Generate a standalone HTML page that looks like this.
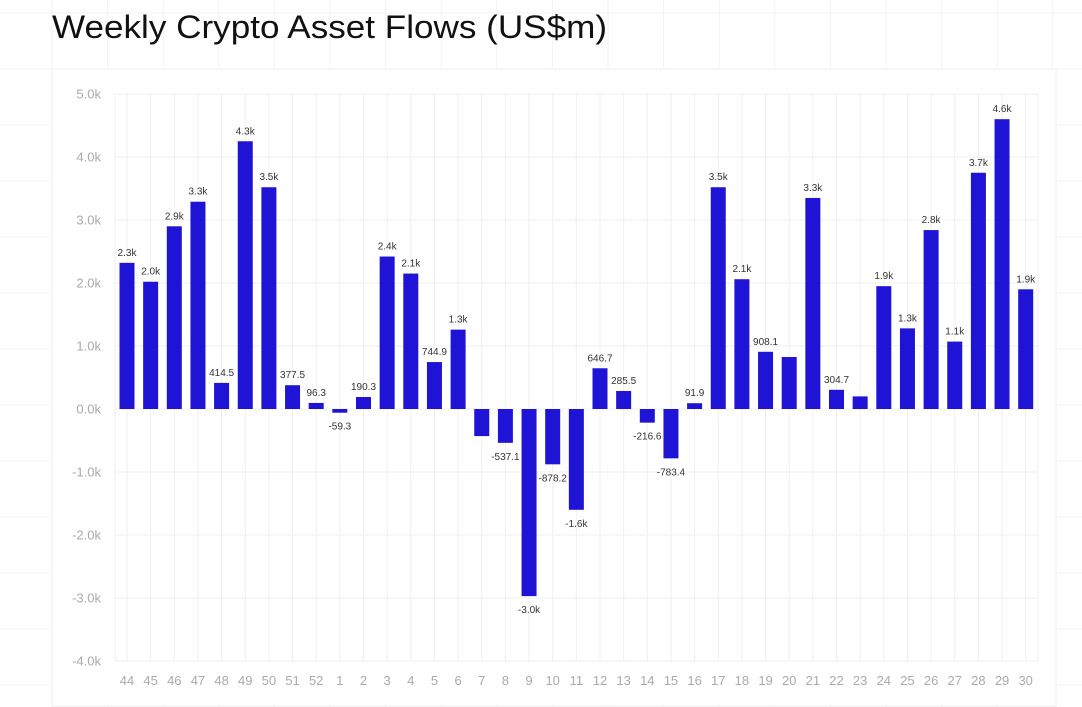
<!DOCTYPE html>
<html><head><meta charset="utf-8"><style>
html,body{margin:0;padding:0;background:#fff;}
svg{display:block;font-family:"Liberation Sans",sans-serif;}
</style></head><body>
<svg width="1082" height="707" viewBox="0 0 1082 707" xmlns="http://www.w3.org/2000/svg">
<g stroke="#f3f3f3" stroke-width="1" id="bg"></g>
<rect x="52" y="69" width="1004" height="637" fill="#fff" stroke="#efefef"/>
<text x="52" y="38" font-size="32" fill="#111" textLength="555" lengthAdjust="spacingAndGlyphs">Weekly Crypto Asset Flows (US$m)</text>
<g id="grid" stroke="#efefef" stroke-width="1"></g>
<g id="bars"></g>
<g id="labels" font-size="10" fill="#333" text-anchor="middle"></g>
<g id="ylab" font-size="13" fill="#aaa" text-anchor="end"></g>
<g id="xlab" font-size="13" fill="#aaa" text-anchor="middle"></g>
</svg>
<script>
const ns="http://www.w3.org/2000/svg";
function el(p,t,a,txt){const e=document.createElementNS(ns,t);for(const k in a)e.setAttribute(k,a[k]);if(txt!==undefined)e.textContent=txt;document.getElementById(p).appendChild(e);return e;}
for(let x=52-55.6*1;x<1082;x+=55.6)el("bg","line",{x1:x,y1:0,x2:x,y2:707});
for(let y=13;y<707;y+=56)el("bg","line",{x1:0,y1:y,x2:1082,y2:y});
const cats=[44,45,46,47,48,49,50,51,52,1,2,3,4,5,6,7,8,9,10,11,12,13,14,15,16,17,18,19,20,21,22,23,24,25,26,27,28,29,30];
const vals=[2.32,2.02,2.9,3.29,0.4145,4.25,3.52,0.3775,0.0963,-0.0593,0.1903,2.42,2.15,0.7449,1.26,-0.43,-0.5371,-2.97,-0.8782,-1.6,0.6467,0.2855,-0.2166,-0.7834,0.0919,3.52,2.06,0.9081,0.825,3.35,0.3047,0.2,1.95,1.28,2.84,1.07,3.75,4.6,1.9];
const labs=["2.3k","2.0k","2.9k","3.3k","414.5","4.3k","3.5k","377.5","96.3","-59.3","190.3","2.4k","2.1k","744.9","1.3k","","-537.1","-3.0k","-878.2","-1.6k","646.7","285.5","-216.6","-783.4","91.9","3.5k","2.1k","908.1","","3.3k","304.7","","1.9k","1.3k","2.8k","1.1k","3.7k","4.6k","1.9k"];
const Y=v=>409-v*63;
const cx=i=>127+i*23.65;
for(let k=5;k>=-4;k--){const y=Y(k);el("grid","line",{x1:115,y1:y,x2:1038,y2:y});
el("ylab","text",{x:101,y:y+4.5},(k===0?"0.0k":k.toFixed(1)+"k"));}
el("grid","line",{x1:115,y1:93.5,x2:115,y2:661});
el("grid","line",{x1:1038,y1:93.5,x2:1038,y2:661});
cats.forEach((c,i)=>{const x=cx(i);
el("grid","line",{x1:x,y1:93.5,x2:x,y2:661});
const v=vals[i];const y0=Y(Math.max(v,0)),h=Math.abs(v)*63;
el("bars","rect",{x:x-7.5,y:y0,width:15,height:Math.max(h,1),fill:"#1f14d6"});
if(labs[i]){ if(v>=0)el("labels","text",{x:x,y:y0-7},labs[i]); else el("labels","text",{x:x,y:Y(v)+17},labs[i]);}
el("xlab","text",{x:x,y:685},String(c));
});
</script>
</body></html>
